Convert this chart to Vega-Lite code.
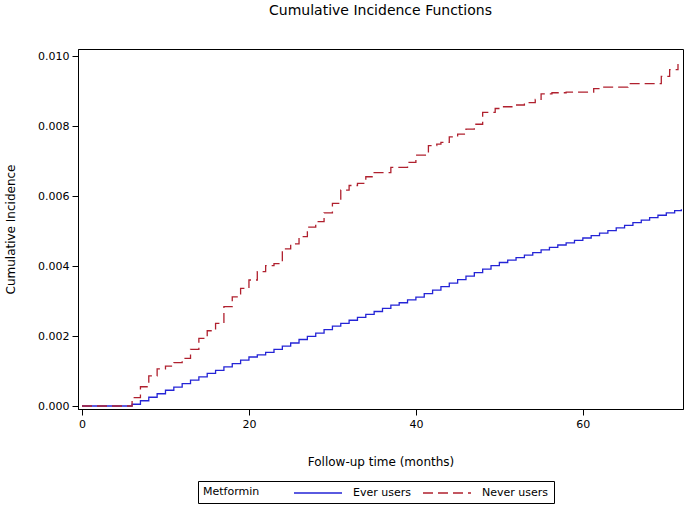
{
  "$schema": "https://vega.github.io/schema/vega-lite/v6.json",
  "width": 605,
  "height": 360,
  "autosize": {"type": "none"},
  "padding": {"left": 78, "top": 49, "right": 2, "bottom": 98},
  "title": {"text": "Cumulative Incidence Functions", "font": "DejaVu Sans", "fontSize": 14, "fontWeight": "normal", "color": "#000", "offset": 31},
  "config": {
    "font": "DejaVu Sans",
    "view": {"stroke": "#000", "strokeWidth": 1},
    "axis": {"domainColor": "#000", "tickColor": "#000", "labelColor": "#000", "titleColor": "#000", "grid": false, "labelFontSize": 11, "titleFontSize": 12, "titleFontWeight": "normal", "tickSize": 6, "labelPadding": 3},
    "legend": {"orient": "none", "legendX": 120, "legendY": 432, "direction": "horizontal", "titleOrient": "left", "strokeColor": "#000", "padding": 5, "symbolType": "M-4,0H4", "symbolSize": 144, "symbolStrokeWidth": 1.3, "labelFontSize": 11, "titleFontSize": 11, "titleFontWeight": "normal", "titlePadding": 51, "columnPadding": 9, "labelOffset": 28, "labelColor": "#000", "titleColor": "#000", "titleBaseline": "middle", "titleAnchor": "middle"}
  },
  "data": {"values": [
    {"group": "Ever users", "month": 0, "ci": 0},
    {"group": "Ever users", "month": 6, "ci": 0.00005},
    {"group": "Ever users", "month": 7, "ci": 0.00015},
    {"group": "Ever users", "month": 8, "ci": 0.00025},
    {"group": "Ever users", "month": 9, "ci": 0.00035},
    {"group": "Ever users", "month": 10, "ci": 0.00045},
    {"group": "Ever users", "month": 11, "ci": 0.00054},
    {"group": "Ever users", "month": 12, "ci": 0.00064},
    {"group": "Ever users", "month": 13, "ci": 0.00074},
    {"group": "Ever users", "month": 14, "ci": 0.00083},
    {"group": "Ever users", "month": 15, "ci": 0.00093},
    {"group": "Ever users", "month": 16, "ci": 0.00102},
    {"group": "Ever users", "month": 17, "ci": 0.00112},
    {"group": "Ever users", "month": 18, "ci": 0.00121},
    {"group": "Ever users", "month": 19, "ci": 0.00131},
    {"group": "Ever users", "month": 20, "ci": 0.00140},
    {"group": "Ever users", "month": 21, "ci": 0.00146},
    {"group": "Ever users", "month": 22, "ci": 0.00153},
    {"group": "Ever users", "month": 23, "ci": 0.00162},
    {"group": "Ever users", "month": 24, "ci": 0.00171},
    {"group": "Ever users", "month": 25, "ci": 0.00180},
    {"group": "Ever users", "month": 26, "ci": 0.00190},
    {"group": "Ever users", "month": 27, "ci": 0.00199},
    {"group": "Ever users", "month": 28, "ci": 0.00208},
    {"group": "Ever users", "month": 29, "ci": 0.00218},
    {"group": "Ever users", "month": 30, "ci": 0.00228},
    {"group": "Ever users", "month": 31, "ci": 0.00236},
    {"group": "Ever users", "month": 32, "ci": 0.00245},
    {"group": "Ever users", "month": 33, "ci": 0.00253},
    {"group": "Ever users", "month": 34, "ci": 0.00262},
    {"group": "Ever users", "month": 35, "ci": 0.00270},
    {"group": "Ever users", "month": 36, "ci": 0.00279},
    {"group": "Ever users", "month": 37, "ci": 0.00288},
    {"group": "Ever users", "month": 38, "ci": 0.00295},
    {"group": "Ever users", "month": 39, "ci": 0.00303},
    {"group": "Ever users", "month": 40, "ci": 0.00311},
    {"group": "Ever users", "month": 41, "ci": 0.00321},
    {"group": "Ever users", "month": 42, "ci": 0.00331},
    {"group": "Ever users", "month": 43, "ci": 0.00341},
    {"group": "Ever users", "month": 44, "ci": 0.00351},
    {"group": "Ever users", "month": 45, "ci": 0.00361},
    {"group": "Ever users", "month": 46, "ci": 0.00371},
    {"group": "Ever users", "month": 47, "ci": 0.00381},
    {"group": "Ever users", "month": 48, "ci": 0.00391},
    {"group": "Ever users", "month": 49, "ci": 0.00401},
    {"group": "Ever users", "month": 50, "ci": 0.00410},
    {"group": "Ever users", "month": 51, "ci": 0.00417},
    {"group": "Ever users", "month": 52, "ci": 0.00424},
    {"group": "Ever users", "month": 53, "ci": 0.00431},
    {"group": "Ever users", "month": 54, "ci": 0.00438},
    {"group": "Ever users", "month": 55, "ci": 0.00446},
    {"group": "Ever users", "month": 56, "ci": 0.00453},
    {"group": "Ever users", "month": 57, "ci": 0.00460},
    {"group": "Ever users", "month": 58, "ci": 0.00466},
    {"group": "Ever users", "month": 59, "ci": 0.00473},
    {"group": "Ever users", "month": 60, "ci": 0.00480},
    {"group": "Ever users", "month": 61, "ci": 0.00487},
    {"group": "Ever users", "month": 62, "ci": 0.00494},
    {"group": "Ever users", "month": 63, "ci": 0.00501},
    {"group": "Ever users", "month": 64, "ci": 0.00509},
    {"group": "Ever users", "month": 65, "ci": 0.00516},
    {"group": "Ever users", "month": 66, "ci": 0.00524},
    {"group": "Ever users", "month": 67, "ci": 0.00531},
    {"group": "Ever users", "month": 68, "ci": 0.00538},
    {"group": "Ever users", "month": 69, "ci": 0.00545},
    {"group": "Ever users", "month": 70, "ci": 0.00552},
    {"group": "Ever users", "month": 71, "ci": 0.00558},
    {"group": "Ever users", "month": 71.8, "ci": 0.00562},
    {"group": "Never users", "month": 0, "ci": 0},
    {"group": "Never users", "month": 6, "ci": 0.00024},
    {"group": "Never users", "month": 7, "ci": 0.00055},
    {"group": "Never users", "month": 8, "ci": 0.00086},
    {"group": "Never users", "month": 9, "ci": 0.00106},
    {"group": "Never users", "month": 10, "ci": 0.00114},
    {"group": "Never users", "month": 11, "ci": 0.00124},
    {"group": "Never users", "month": 12, "ci": 0.00136},
    {"group": "Never users", "month": 13, "ci": 0.00162},
    {"group": "Never users", "month": 14, "ci": 0.00193},
    {"group": "Never users", "month": 15, "ci": 0.00215},
    {"group": "Never users", "month": 16, "ci": 0.00236},
    {"group": "Never users", "month": 17, "ci": 0.00284},
    {"group": "Never users", "month": 18, "ci": 0.00312},
    {"group": "Never users", "month": 19, "ci": 0.00336},
    {"group": "Never users", "month": 20, "ci": 0.00360},
    {"group": "Never users", "month": 21, "ci": 0.00384},
    {"group": "Never users", "month": 22, "ci": 0.00401},
    {"group": "Never users", "month": 23, "ci": 0.00407},
    {"group": "Never users", "month": 24, "ci": 0.00449},
    {"group": "Never users", "month": 25, "ci": 0.00463},
    {"group": "Never users", "month": 26, "ci": 0.00484},
    {"group": "Never users", "month": 27, "ci": 0.00511},
    {"group": "Never users", "month": 28, "ci": 0.00527},
    {"group": "Never users", "month": 29, "ci": 0.00552},
    {"group": "Never users", "month": 30, "ci": 0.00579},
    {"group": "Never users", "month": 31, "ci": 0.00617},
    {"group": "Never users", "month": 32, "ci": 0.00630},
    {"group": "Never users", "month": 33, "ci": 0.00636},
    {"group": "Never users", "month": 34, "ci": 0.00655},
    {"group": "Never users", "month": 35, "ci": 0.00667},
    {"group": "Never users", "month": 37, "ci": 0.00682},
    {"group": "Never users", "month": 39, "ci": 0.00696},
    {"group": "Never users", "month": 40, "ci": 0.00717},
    {"group": "Never users", "month": 41.5, "ci": 0.00744},
    {"group": "Never users", "month": 42.5, "ci": 0.00748},
    {"group": "Never users", "month": 43, "ci": 0.00753},
    {"group": "Never users", "month": 44, "ci": 0.00769},
    {"group": "Never users", "month": 45, "ci": 0.00777},
    {"group": "Never users", "month": 46, "ci": 0.00791},
    {"group": "Never users", "month": 47, "ci": 0.00805},
    {"group": "Never users", "month": 48, "ci": 0.00839},
    {"group": "Never users", "month": 49.5, "ci": 0.00850},
    {"group": "Never users", "month": 50.5, "ci": 0.00855},
    {"group": "Never users", "month": 51.5, "ci": 0.00860},
    {"group": "Never users", "month": 53, "ci": 0.00867},
    {"group": "Never users", "month": 54.3, "ci": 0.00876},
    {"group": "Never users", "month": 55, "ci": 0.00892},
    {"group": "Never users", "month": 56.3, "ci": 0.00895},
    {"group": "Never users", "month": 58, "ci": 0.00897},
    {"group": "Never users", "month": 61.3, "ci": 0.00907},
    {"group": "Never users", "month": 62.2, "ci": 0.00911},
    {"group": "Never users", "month": 65.4, "ci": 0.00921},
    {"group": "Never users", "month": 69.4, "ci": 0.00942},
    {"group": "Never users", "month": 70.4, "ci": 0.00961},
    {"group": "Never users", "month": 71.4, "ci": 0.00977}
  ]},
  "mark": {"type": "line", "interpolate": "step-after", "strokeWidth": 1.3},
  "encoding": {
    "x": {"field": "month", "type": "quantitative", "title": "Follow-up time (months)",
      "scale": {"domain": [-0.48, 72], "nice": false, "zero": false},
      "axis": {"values": [0, 20, 40, 60], "format": "d", "titlePadding": 27}},
    "y": {"field": "ci", "type": "quantitative", "title": "Cumulative Incidence",
      "scale": {"domain": [-0.0000857, 0.0102], "nice": false, "zero": false},
      "axis": {"values": [0, 0.002, 0.004, 0.006, 0.008, 0.01], "format": ".3f", "titlePadding": 20}},
    "color": {"field": "group", "type": "nominal", "title": "Metformin",
      "scale": {"domain": ["Ever users", "Never users"], "range": ["#2424D6", "#B0202E"]}},
    "strokeDash": {"field": "group", "type": "nominal", "title": "Metformin",
      "scale": {"domain": ["Ever users", "Never users"], "range": [[1, 0], [10, 5]]}}
  }
}
